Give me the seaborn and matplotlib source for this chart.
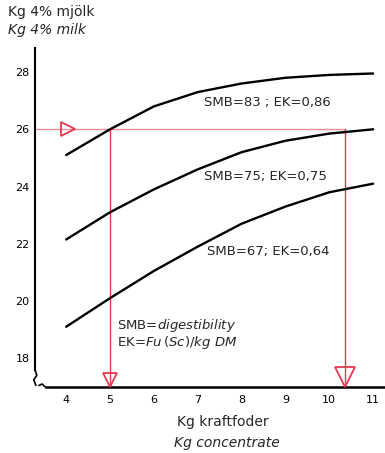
import matplotlib
matplotlib.use("Agg")
import matplotlib.pyplot as plt
import matplotlib.transforms as mtransforms
import seaborn as sns
import pandas as pd

# ---- data ----
kg_concentrate = [4, 5, 6, 7, 8, 9, 10, 11]
smb83 = [25.1, 26.0, 26.8, 27.3, 27.6, 27.8, 27.9, 27.95]
smb75 = [22.15, 23.1, 23.9, 24.6, 25.2, 25.6, 25.85, 26.0]
smb67 = [19.1, 20.1, 21.05, 21.9, 22.7, 23.3, 23.8, 24.1]
curve_labels = ["SMB=83 ; EK=0,86", "SMB=75; EK=0,75", "SMB=67; EK=0,64"]
x_ticks = [4, 5, 6, 7, 8, 9, 10, 11]
y_ticks = [18, 20, 22, 24, 26, 28]
target_milk = 26
target_x = [5, 10.35]

sns.set_theme(style="white")
plt.rcParams['font.family'] = ['DejaVu Sans']

df = pd.DataFrame({
    "x": kg_concentrate * 3,
    "y": smb83 + smb75 + smb67,
    "curve": [curve_labels[0]] * 8 + [curve_labels[1]] * 8 + [curve_labels[2]] * 8,
})

fig = plt.figure(figsize=(3.85, 4.53), dpi=100)
ax = fig.add_axes([0.091, 0.146, 0.909, 0.748])

red = "#e23a50"

# red guide lines
ax.plot([3.29, target_x[1]], [target_milk, target_milk], color="#f08a9a", lw=1.0, zorder=1)
for tx in target_x:
    ax.plot([tx, tx], [17.0, target_milk], color=red, lw=1.0, zorder=1)

sns.lineplot(data=df, x="x", y="y", hue="curve",
             palette=["black", "black", "black"], legend=False,
             linewidth=1.7, ax=ax, zorder=3)

ax.set_xlim(3.29, 11.27)
ax.set_ylim(17.0, 28.84)

# triangles
def offset_plot(x, y, marker, ms, dx_pt, dy_pt):
    tr = ax.transData + mtransforms.ScaledTranslation(dx_pt / 72, dy_pt / 72, fig.dpi_scale_trans)
    ax.plot([x], [y], marker=marker, ms=ms, mfc="none", mec=red, mew=1.3,
            transform=tr, clip_on=False, zorder=4)

offset_plot(target_x[0], 17.0, "v", 10, 0, 5)
offset_plot(target_x[1], 17.0, "v", 14, 0, 7)
offset_plot(4.05, target_milk, ">", 10, 0, 0)

# spines
for s in ["top", "right"]:
    ax.spines[s].set_visible(False)
ax.spines["left"].set_color("black")
ax.spines["bottom"].set_color("black")
ax.spines["left"].set_linewidth(1.5)
ax.spines["bottom"].set_linewidth(1.8)
ax.spines["left"].set_bounds(17.6, 28.84)
ax.spines["bottom"].set_bounds(3.55, 11.27)

# axis break squiggle
ax.plot([3.29, 3.33, 3.26, 3.31], [17.6, 17.4, 17.25, 17.05], color="black", lw=1.2, clip_on=False)
ax.plot([3.38, 3.45, 3.52], [17.05, 17.1, 17.0], color="black", lw=1.2, clip_on=False)

ax.set_xticks(x_ticks)
ax.set_yticks(y_ticks)
ax.set_xticklabels([str(v) for v in x_ticks], fontsize=8)
ax.set_yticklabels([str(v) for v in y_ticks], fontsize=8)
ax.tick_params(axis="both", direction="inout", length=4, width=1, colors="black", pad=2)
ax.tick_params(axis="x", pad=4)
ax.set_xlabel("")
ax.set_ylabel("")

# curve labels
fs = 9.5
ax.text(7.15, 26.94, curve_labels[0], fontsize=fs, ha="left", va="center")
ax.text(7.15, 24.35, curve_labels[1], fontsize=fs, ha="left", va="center")
ax.text(7.2, 21.72, curve_labels[2], fontsize=fs, ha="left", va="center")

ax.text(5.16, 19.15, "SMB=$\\it{digestibility}$", fontsize=fs, ha="left", va="center")
ax.text(5.16, 18.56, "EK=$\\it{Fu\\,(Sc)/kg\\ DM}$", fontsize=fs, ha="left", va="center")

# titles
fig.text(0.02, 0.974, "Kg 4% mjölk", fontsize=10, ha="left", va="center")
fig.text(0.02, 0.934, "Kg 4% milk", fontsize=10, ha="left", va="center", style="italic")
fig.text(0.58, 0.068, "Kg kraftfoder", fontsize=10, ha="center", va="center")
fig.text(0.59, 0.022, "Kg concentrate", fontsize=10, ha="center", va="center", style="italic")

fig.savefig("out.png", dpi=100)
